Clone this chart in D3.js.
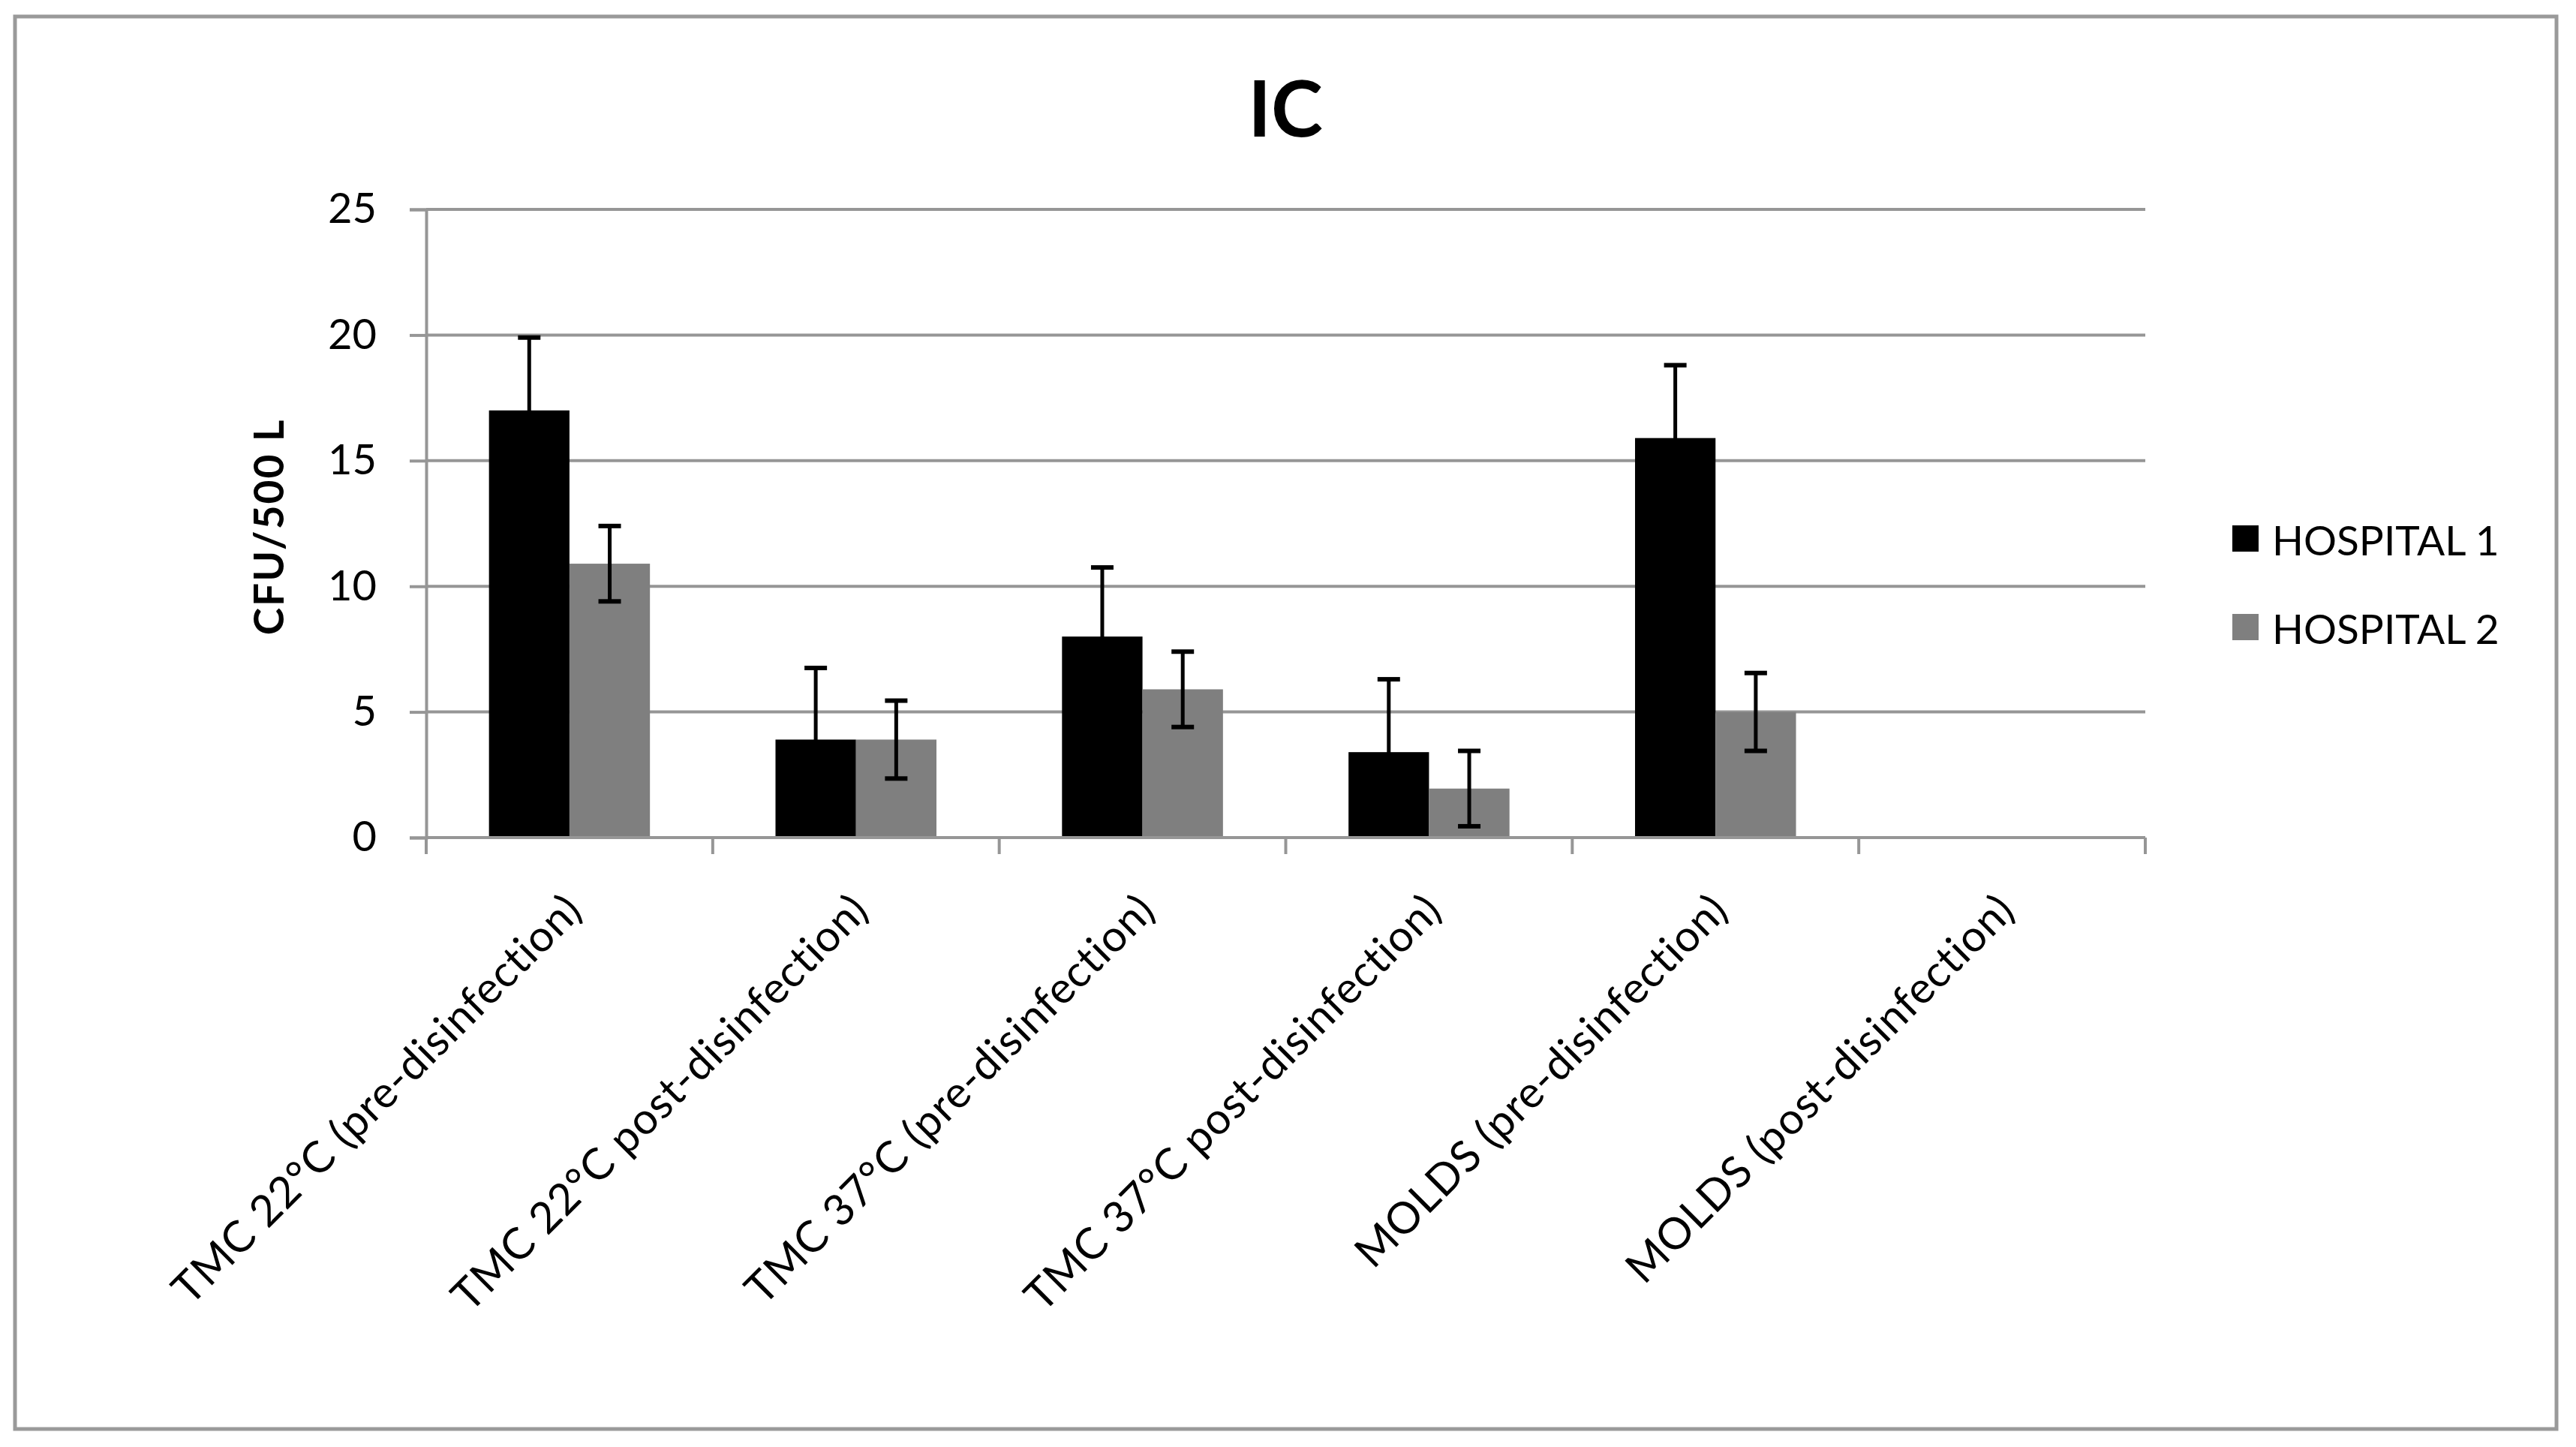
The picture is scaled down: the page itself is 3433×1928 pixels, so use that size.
<!DOCTYPE html>
<html>
<head>
<meta charset="utf-8">
<script src="https://cdn.jsdelivr.net/npm/d3@7"></script>
<style>
  body { margin: 0; background: #fff; }
  text { font-family: Lato, "Open Sans", sans-serif; fill: #000; }
</style>
</head>
<body>
<script>
// chart data
var categories = ["TMC 22°C (pre-disinfection)", "TMC 22°C post-disinfection)",
  "TMC 37°C (pre-disinfection)", "TMC 37°C post-disinfection)",
  "MOLDS (pre-disinfection)", "MOLDS (post-disinfection)"];
var seriesNames = ["HOSPITAL 1", "HOSPITAL 2"];
var hospital1 = [17, 3.9, 8, 3.4, 15.9, 0];
var hospital1Err = [2.9, 2.85, 2.75, 2.9, 2.9, 0];
var hospital2 = [10.9, 3.9, 5.9, 1.95, 5, 0];
var hospital2Err = [1.5, 1.55, 1.5, 1.5, 1.55, 0];
var yTicks = [0, 5, 10, 15, 20, 25];

var w = 3433, h = 1928;
var colors = ["#000000", "#7f7f7f"];

var svg = d3.select("body").append("svg")
  .attr("width", w)
  .attr("height", h);

// outer chart frame
svg.append("rect")
  .attr("x", 20).attr("y", 22)
  .attr("width", 3387).attr("height", 1882)
  .attr("fill", "#fff")
  .attr("stroke", "#9a9a9a")
  .attr("stroke-width", 5);

var plotLeft = 568, plotRight = 2859, plotTop = 279, plotBottom = 1116;

var x = d3.scaleBand().domain(categories).range([plotLeft, plotRight]);
var xs = d3.scaleBand().domain(seriesNames).range([0, x.bandwidth()]).paddingOuter(0.78);
var y = d3.scaleLinear().domain([0, 25]).range([plotBottom, plotTop]);

// gridlines
svg.append("g")
  .selectAll("line")
  .data(yTicks)
  .enter().append("line")
  .attr("x1", plotLeft).attr("x2", plotRight)
  .attr("y1", function(d){ return y(d); })
  .attr("y2", function(d){ return y(d); })
  .attr("stroke", "#969696")
  .attr("stroke-width", 4);

// y axis
var yAxis = svg.append("g")
  .attr("transform", "translate(" + plotLeft + ",0)")
  .call(d3.axisLeft(y).tickValues(yTicks).tickSize(22).tickPadding(44));
yAxis.select(".domain").attr("stroke", "#969696").attr("stroke-width", 4);
yAxis.selectAll(".tick line").attr("stroke", "#969696").attr("stroke-width", 4);
yAxis.selectAll(".tick text")
  .style("font-family", "Lato, sans-serif")
  .style("font-size", "56px")
  .attr("fill", "#000");

// bars
var data = categories.map(function(c, i){
  return [
    {cat: c, s: seriesNames[0], v: hospital1[i], e: hospital1Err[i]},
    {cat: c, s: seriesNames[1], v: hospital2[i], e: hospital2Err[i]}
  ];
});

var groups = svg.append("g").selectAll("g")
  .data(data)
  .enter().append("g")
  .attr("transform", function(d){ return "translate(" + x(d[0].cat) + ",0)"; });

groups.selectAll("rect")
  .data(function(d){ return d.filter(function(p){ return p.v > 0; }); })
  .enter().append("rect")
  .attr("x", function(d){ return xs(d.s); })
  .attr("width", xs.bandwidth())
  .attr("y", function(d){ return y(d.v); })
  .attr("height", function(d){ return y(0) - y(d.v); })
  .attr("fill", function(d){ return colors[seriesNames.indexOf(d.s)]; });

// x axis line and ticks at category boundaries
svg.append("line")
  .attr("x1", plotLeft).attr("x2", plotRight)
  .attr("y1", plotBottom).attr("y2", plotBottom)
  .attr("stroke", "#969696").attr("stroke-width", 4);
var bounds = categories.map(function(c){ return x(c); }).concat([plotRight]);
svg.append("g").selectAll("line")
  .data(bounds)
  .enter().append("line")
  .attr("x1", function(d){ return d; }).attr("x2", function(d){ return d; })
  .attr("y1", plotBottom).attr("y2", plotBottom + 22)
  .attr("stroke", "#969696").attr("stroke-width", 4);

// error bars
var errs = groups.selectAll("g.err")
  .data(function(d){ return d.filter(function(p){ return p.e > 0; }); })
  .enter().append("g")
  .attr("class", "err");
var cap = 15;
errs.append("line")
  .attr("x1", function(d){ return xs(d.s) + xs.bandwidth() / 2; })
  .attr("x2", function(d){ return xs(d.s) + xs.bandwidth() / 2; })
  .attr("y1", function(d){ return y(d.v + d.e); })
  .attr("y2", function(d){ return y(d.v - d.e); })
  .attr("stroke", "#000").attr("stroke-width", 5);
errs.append("line")
  .attr("x1", function(d){ return xs(d.s) + xs.bandwidth() / 2 - cap; })
  .attr("x2", function(d){ return xs(d.s) + xs.bandwidth() / 2 + cap; })
  .attr("y1", function(d){ return y(d.v + d.e); })
  .attr("y2", function(d){ return y(d.v + d.e); })
  .attr("stroke", "#000").attr("stroke-width", 6);
errs.filter(function(d){ return d.s === seriesNames[1]; }).append("line")
  .attr("x1", function(d){ return xs(d.s) + xs.bandwidth() / 2 - cap; })
  .attr("x2", function(d){ return xs(d.s) + xs.bandwidth() / 2 + cap; })
  .attr("y1", function(d){ return y(d.v - d.e); })
  .attr("y2", function(d){ return y(d.v - d.e); })
  .attr("stroke", "#000").attr("stroke-width", 6);

// category labels, rotated
svg.append("g").selectAll("text")
  .data(categories)
  .enter().append("text")
  .attr("transform", function(d){
    return "translate(" + (x(d) + x.bandwidth() / 2 + 20) + "," + (plotBottom + 100) + ") rotate(-45)";
  })
  .attr("text-anchor", "end")
  .style("font-size", "58px")
  .style("letter-spacing", "1px")
  .text(function(d){ return d; });

// title
svg.append("text")
  .attr("x", 1713).attr("y", 182)
  .attr("text-anchor", "middle")
  .style("font-size", "104px")
  .style("font-weight", "bold")
  .text("IC");

// y axis title
svg.append("text")
  .attr("transform", "translate(378,702) rotate(-90)")
  .attr("text-anchor", "middle")
  .style("font-size", "55px")
  .style("font-weight", "bold")
  .style("letter-spacing", "2px")
  .text("CFU/500 L");

// legend
var legend = svg.append("g").selectAll("g")
  .data(seriesNames)
  .enter().append("g")
  .attr("transform", function(d, i){ return "translate(2975," + (700 + i * 118) + ")"; });
legend.append("rect")
  .attr("width", 35).attr("height", 35)
  .attr("fill", function(d, i){ return colors[i]; });
legend.append("text")
  .attr("x", 53).attr("y", 40)
  .style("font-size", "55px")
  .text(function(d){ return d; });
</script>
</body>
</html>
